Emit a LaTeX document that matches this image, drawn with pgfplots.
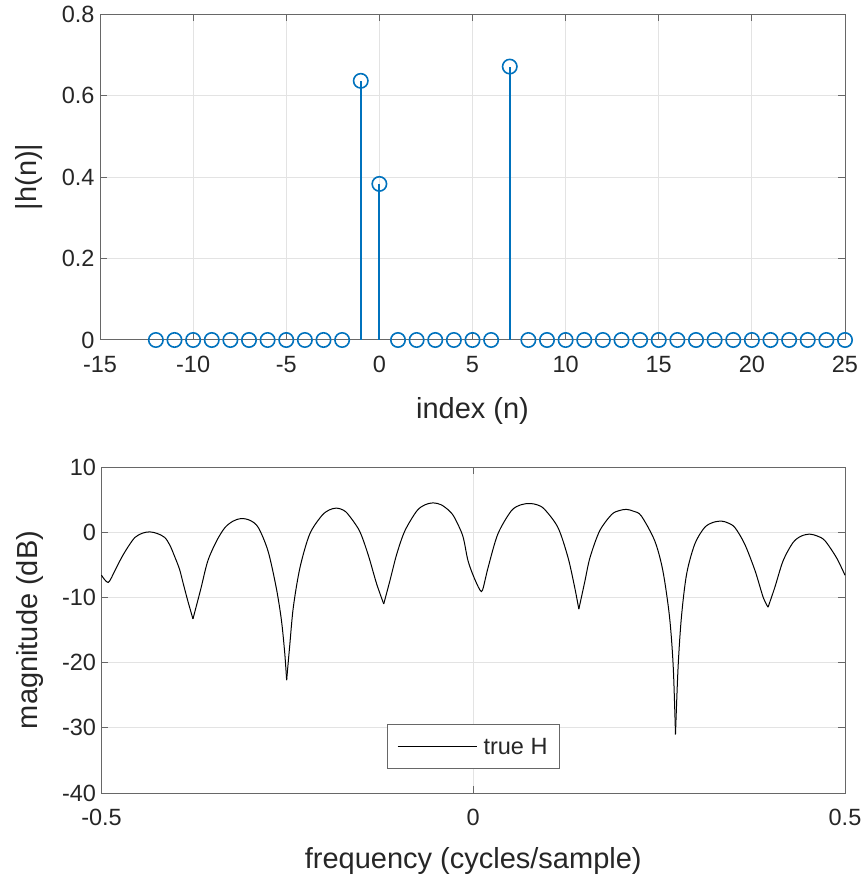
\documentclass[border=0pt]{standalone}
\usepackage{fontspec}
\setmainfont{Liberation Sans}
\usepackage{pgfplots}
\pgfplotsset{compat=1.18}
\definecolor{mblue}{rgb}{0,0.447,0.741}
\definecolor{axc}{rgb}{0.15,0.15,0.15}
\definecolor{gridc}{rgb}{0.89,0.89,0.89}
\pgfplotsset{mystyle/.style={
  scale only axis, height=326pt,
  axis line style={draw=axc!70, line width=1pt},
  tick style={draw=axc!70, line width=1pt}, major tick length=7pt,
  tick align=inside,
  grid=major, major grid style={gridc, line width=1pt},
  tick label style={font=\fontsize{23.5}{26}\selectfont, text=axc},
  xticklabel style={yshift=-13pt},
  yticklabel style={xshift=-2pt},
  label style={font=\fontsize{29}{32}\selectfont, text=axc},
  clip=false,
},
hstyle/.style={black, line width=1pt, no marks, smooth, tension=0.5},
sstyle/.style={mblue, line width=1.8pt, no marks}
}
\begin{document}
\begin{tikzpicture}
\useasboundingbox (0,0) rectangle (865pt,884pt);
\begin{axis}[mystyle, at={(100pt,544pt)}, anchor=south west, width=745pt,
  xmin=-15, xmax=25, ymin=0, ymax=0.8,
  xtick={-15,-10,-5,0,5,10,15,20,25}, xticklabels={-15,-10,-5,0,5,10,15,20,25},
  ytick={0,0.2,0.4,0.6,0.8}, yticklabels={0,0.2,0.4,0.6,0.8},
  xlabel={index (n)}, ylabel={|h(n)|},
  xlabel style={at={(axis description cs:0.5,-0.218)}, anchor=center},
  ylabel style={at={(axis description cs:-0.0946,0.5)}, anchor=center},
]
\addplot[sstyle] coordinates {(-1,0) (-1,0.636)};
\addplot[sstyle] coordinates {(0,0) (0,0.383)};
\addplot[sstyle] coordinates {(7,0) (7,0.671)};
\addplot[mblue, only marks, mark=o, mark size=7.2pt, mark options={line width=1.6pt, draw=mblue, fill=none}] coordinates {
(-12,0) (-11,0) (-10,0) (-9,0) (-8,0) (-7,0) (-6,0) (-5,0) (-4,0) (-3,0) (-2,0)
(-1,0.636) (0,0.383)
(1,0) (2,0) (3,0) (4,0) (5,0) (6,0)
(7,0.671)
(8,0) (9,0) (10,0) (11,0) (12,0) (13,0) (14,0) (15,0) (16,0) (17,0) (18,0) (19,0) (20,0) (21,0) (22,0) (23,0) (24,0) (25,0)
};
\end{axis}
\begin{axis}[mystyle, at={(101.5pt,91pt)}, anchor=south west, width=743.5pt,
  xmin=-0.5, xmax=0.5, ymin=-40, ymax=10,
  xtick={-0.5,0,0.5}, xticklabels={-0.5,0,0.5},
  ytick={-40,-30,-20,-10,0,10}, yticklabels={-40,-30,-20,-10,0,10},
  xlabel={frequency (cycles/sample)}, ylabel={magnitude (dB)},
  xlabel style={at={(axis description cs:0.5,-0.21)}, anchor=center},
  ylabel style={at={(axis description cs:-0.096,0.5)}, anchor=center},
  legend style={at={(0.5,0.142)}, anchor=center, draw=axc!70, line width=1pt,
    font=\fontsize{23.5}{26}\selectfont, text=axc, inner xsep=10pt, inner ysep=11pt},
  legend image code/.code={\draw[#1] (11pt,0pt) -- (90pt,0pt); \path (94.5pt,0pt);},
]
\addplot[hstyle] coordinates {
(-0.5,-6.6) (-0.491,-7.7) (-0.482,-5.9) (-0.473,-3.9) (-0.464,-2.2) (-0.455,-0.8)
(-0.445,-0.15) (-0.435,0.05) (-0.425,-0.2) (-0.415,-0.8) (-0.408,-2.0) (-0.401,-3.9)
(-0.395,-5.7) (-0.390,-7.9) (-0.384,-10.5) (-0.377,-13.3)
};
\addlegendentry{true H}
\addplot[hstyle, forget plot] coordinates {
(-0.377,-13.3) (-0.371,-10.7) (-0.366,-8.5) (-0.357,-4.4) (-0.345,-1.3) (-0.334,0.7)
(-0.323,1.7) (-0.312,2.1) (-0.300,1.8) (-0.289,0.7) (-0.276,-2.9) (-0.265,-8.5)
(-0.258,-13.5) (-0.2535,-18.6) (-0.251,-22.7)
};
\addplot[hstyle, forget plot] coordinates {
(-0.251,-22.7) (-0.247,-17.6) (-0.242,-11.5) (-0.233,-5.4) (-0.220,-0.3) (-0.204,2.5)
(-0.194,3.4) (-0.184,3.7) (-0.175,3.4) (-0.168,2.7) (-0.153,0.2) (-0.1415,-3.4)
(-0.130,-7.9) (-0.1204,-11.0)
};
\addplot[hstyle, forget plot] coordinates {
(-0.1204,-11.0) (-0.112,-7.4) (-0.103,-3.4) (-0.092,0.2) (-0.076,3.25) (-0.065,4.2)
(-0.054,4.5) (-0.043,4.2) (-0.032,3.25) (-0.025,2.2) (-0.014,-0.6) (-0.007,-4.4)
(0.002,-7.2) (0.011,-9.1) (0.016,-7.3) (0.020,-5.4) (0.033,-0.3) (0.051,3.25)
(0.064,4.2) (0.076,4.4) (0.086,4.2) (0.096,3.5) (0.114,0.7) (0.1275,-3.9)
(0.1365,-8.5) (0.142,-11.8)
};
\addplot[hstyle, forget plot] coordinates {
(0.142,-11.8) (0.150,-7.6) (0.157,-3.9) (0.170,0.2) (0.186,2.7) (0.196,3.3)
(0.206,3.5) (0.216,3.2) (0.226,2.5) (0.244,-1.3) (0.255,-5.9) (0.264,-13.0)
(0.269,-20.7) (0.272,-31.0)
};
\addplot[hstyle, forget plot] coordinates {
(0.272,-31.0) (0.2755,-20.7) (0.280,-13.0) (0.287,-6.4) (0.298,-1.8) (0.311,0.7)
(0.3225,1.5) (0.334,1.7) (0.343,1.4) (0.352,0.7) (0.365,-1.8) (0.379,-5.9)
(0.390,-10.0) (0.3965,-11.5)
};
\addplot[hstyle, forget plot] coordinates {
(0.3965,-11.5) (0.4055,-8.5) (0.4167,-4.4) (0.430,-1.6) (0.441,-0.6) (0.4526,-0.3)
(0.463,-0.6) (0.473,-1.3) (0.4885,-3.9) (0.5,-6.6)
};
\end{axis}
\end{tikzpicture}
\end{document}
